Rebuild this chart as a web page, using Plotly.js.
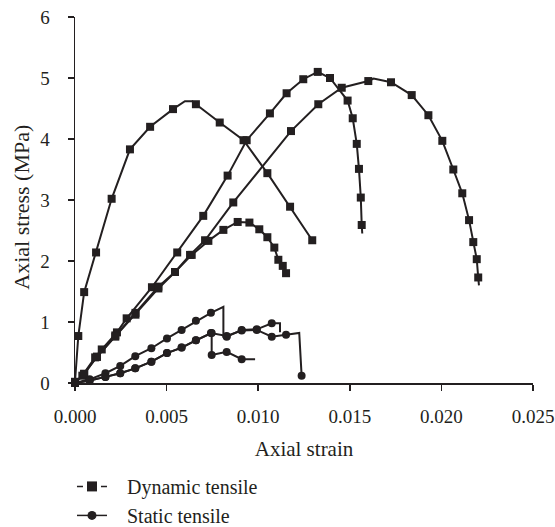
<!DOCTYPE html>
<html>
<head>
<meta charset="utf-8">
<script src="https://cdn.plot.ly/plotly-3.0.1.min.js"></script>
<style>html,body{margin:0;padding:0;background:#fff;}#chart{width:555px;height:527px;}</style>
</head>
<body>
<div id="chart"></div>
<script>
// ---- Data ----
// Dynamic tensile curves (squares)
const dynA_x = [0, 0.00018, 0.0005, 0.00115, 0.0020, 0.0030, 0.0041, 0.00535, 0.0060, 0.0064, 0.0066, 0.0079, 0.0092, 0.0105, 0.01174, 0.01295];
const dynA_y = [0.02, 0.77, 1.49, 2.14, 3.02, 3.83, 4.20, 4.49, 4.62, 4.62, 4.57, 4.27, 3.98, 3.44, 2.89, 2.34];
const dynA_plain = [8, 9];

const dynB_x = [0, 0.0004, 0.0011, 0.00146, 0.00229, 0.00282, 0.0042, 0.00558, 0.0070, 0.00833, 0.00937, 0.01064, 0.01155, 0.01246, 0.01325, 0.01392, 0.01488, 0.01516, 0.01538, 0.0155, 0.0156, 0.01565, 0.01568];
const dynB_y = [0, 0.12, 0.42, 0.55, 0.83, 1.06, 1.57, 2.14, 2.74, 3.40, 3.98, 4.42, 4.75, 4.98, 5.10, 5.00, 4.63, 4.34, 3.92, 3.51, 3.04, 2.59, 2.45];
const dynB_plain = [22];

const dynC_x = [0, 0.0005, 0.0012, 0.0022, 0.0033, 0.00455, 0.00546, 0.00628, 0.0071, 0.00864, 0.01179, 0.01328, 0.01456, 0.01601, 0.0163, 0.01725, 0.01838, 0.01929, 0.02005, 0.02065, 0.02114, 0.02151, 0.02174, 0.02193, 0.02201, 0.02205];
const dynC_y = [0, 0.15, 0.43, 0.78, 1.15, 1.58, 1.82, 2.10, 2.34, 2.96, 4.13, 4.57, 4.84, 4.95, 4.99, 4.93, 4.72, 4.39, 3.97, 3.50, 3.11, 2.67, 2.31, 2.03, 1.73, 1.60];
const dynC_plain = [14, 25];

const dynD_x = [0, 0.0005, 0.0012, 0.0022, 0.0033, 0.00455, 0.00546, 0.00637, 0.00728, 0.0081, 0.00888, 0.00952, 0.01006, 0.0105, 0.01088, 0.0111, 0.01134, 0.01152];
const dynD_y = [0, 0.15, 0.43, 0.76, 1.12, 1.55, 1.82, 2.10, 2.33, 2.51, 2.64, 2.63, 2.52, 2.39, 2.22, 2.02, 1.92, 1.80];
const dynD_plain = [];

// Static tensile curves (circles)
const staA_x = [0, 0.0008, 0.00166, 0.00247, 0.00329, 0.00417, 0.00502, 0.00582, 0.0066, 0.00742, 0.0081, 0.0081, 0.00828, 0.0091, 0.00992, 0.01074, 0.01119, 0.01119];
const staA_y = [0, 0.06, 0.16, 0.28, 0.44, 0.57, 0.73, 0.87, 1.02, 1.15, 1.25, 0.76, 0.76, 0.87, 0.88, 0.98, 0.98, 0.83];
const staA_plain = [10, 11, 16, 17];

const staB_x = [0, 0.0008, 0.00166, 0.00247, 0.00329, 0.00417, 0.00502, 0.00582, 0.0066, 0.00746, 0.00746, 0.00828, 0.0091, 0.00983];
const staB_y = [0, 0.04, 0.10, 0.16, 0.24, 0.35, 0.49, 0.58, 0.70, 0.82, 0.46, 0.51, 0.39, 0.39];
const staB_plain = [13];

const staC_x = [0, 0.0008, 0.00166, 0.00247, 0.00329, 0.00417, 0.00502, 0.00582, 0.0066, 0.00742, 0.00828, 0.0091, 0.00992, 0.01074, 0.01152, 0.01224, 0.01237];
const staC_y = [0, 0.04, 0.10, 0.16, 0.24, 0.35, 0.49, 0.58, 0.70, 0.82, 0.77, 0.86, 0.87, 0.76, 0.79, 0.82, 0.12];
const staC_plain = [15];

const legendNames = ['Dynamic tensile', 'Static tensile'];
const xTitle = 'Axial strain';
const yTitle = 'Axial stress (MPa)';
const xTickVals = [0, 0.005, 0.010, 0.015, 0.020, 0.025];
const xTickText = ['0.000', '0.005', '0.010', '0.015', '0.020', '0.025'];
const yTickVals = [0, 1, 2, 3, 4, 5, 6];

// ---- Build chart ----
const INK = '#231f20';
const FONT = 'Liberation Serif, Times New Roman, serif';
const PAD = '\u00a0\u00a0\u00a0';

function curve(x, y, plain, symbol, size) {
  return {
    type: 'scatter', mode: 'lines+markers', x: x, y: y,
    line: {color: INK, width: 2},
    marker: {symbol: symbol, color: INK, opacity: 1,
             size: x.map((_, i) => plain.includes(i) ? 0 : size), line: {width: 0}},
    showlegend: false, hoverinfo: 'skip', cliponaxis: false
  };
}

const traces = [
  curve(dynA_x, dynA_y, dynA_plain, 'square', 8),
  curve(dynB_x, dynB_y, dynB_plain, 'square', 8),
  curve(dynC_x, dynC_y, dynC_plain, 'square', 8),
  curve(dynD_x, dynD_y, dynD_plain, 'square', 8),
  curve(staA_x, staA_y, staA_plain, 'circle', 8),
  curve(staB_x, staB_y, staB_plain, 'circle', 8),
  curve(staC_x, staC_y, staC_plain, 'circle', 8),
  // legend entries
  {type: 'scatter', mode: 'lines+markers', x: [null], y: [null], name: PAD + legendNames[0],
   line: {color: INK, width: 1.5, dash: '6px,18px,6px'}, marker: {symbol: 'square', color: INK, size: 10, opacity: 1},
   showlegend: true, legendgroup: 'd'},
  {type: 'scatter', mode: 'lines+markers', x: [null], y: [null], name: PAD + legendNames[1],
   line: {color: INK, width: 1.5}, marker: {symbol: 'circle', color: INK, size: 9, opacity: 1},
   showlegend: true, legendgroup: 's'}
];

const layout = {
  width: 555, height: 527,
  margin: {l: 75, r: 22, t: 17, b: 144, pad: 0, autoexpand: false},
  paper_bgcolor: '#fff', plot_bgcolor: '#fff',
  font: {family: FONT, color: INK, size: 19},
  showlegend: true,
  legend: {xref: 'container', yref: 'container', x: 0.1297, xanchor: 'left', y: 0.114, yanchor: 'top',
           orientation: 'v', font: {family: FONT, size: 20, color: INK}, tracegroupgap: 0,
           bgcolor: 'rgba(0,0,0,0)'},
  xaxis: {
    range: [0, 0.025], tickvals: xTickVals, ticktext: xTickText,
    showgrid: false, zeroline: false, showline: true, linecolor: INK, linewidth: 1.5,
    ticks: 'outside', ticklen: 6, tickwidth: 1.5, tickcolor: INK,
    tickfont: {family: FONT, size: 19, color: INK}, ticklabelstandoff: 10,
    title: {text: xTitle, font: {family: FONT, size: 21, color: INK}, standoff: 15},
    fixedrange: true
  },
  yaxis: {
    range: [0, 6], tickvals: yTickVals,
    showgrid: false, zeroline: false, showline: true, linecolor: INK, linewidth: 1.5,
    ticks: 'outside', ticklen: 6, tickwidth: 1.5, tickcolor: INK,
    tickfont: {family: FONT, size: 19, color: INK}, ticklabelstandoff: 14,
    fixedrange: true
  },
  annotations: [{
    text: yTitle, xref: 'paper', yref: 'paper', x: -0.1164, y: 0.481,
    xanchor: 'center', yanchor: 'middle', textangle: -90, showarrow: false,
    font: {family: FONT, size: 22, color: INK}
  }]
};

Plotly.newPlot('chart', traces, layout, {displayModeBar: false, staticPlot: true});
</script>
</body>
</html>
